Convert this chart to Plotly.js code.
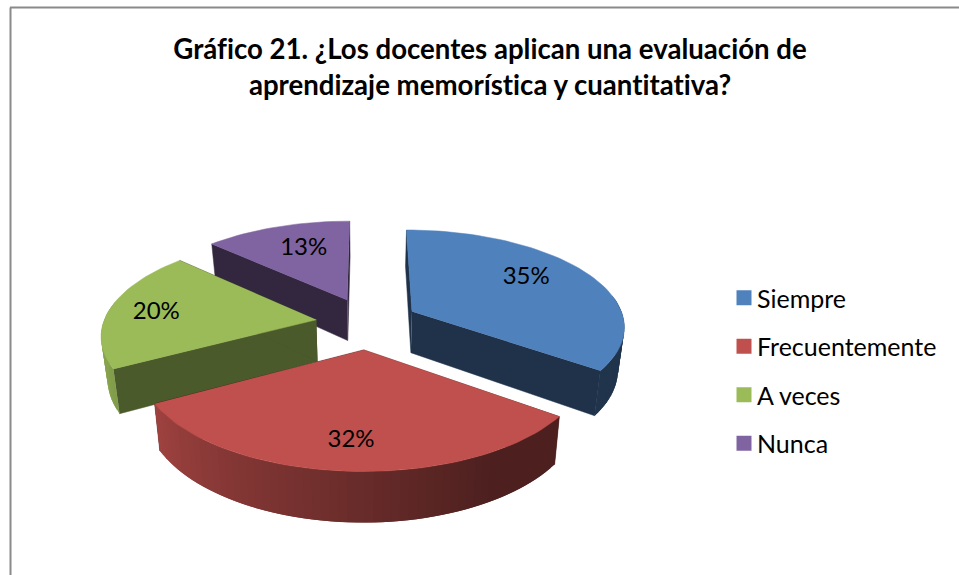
<!DOCTYPE html>
<html><head><meta charset="utf-8">
<script src="https://cdn.plot.ly/plotly-3.0.1.min.js"></script>
<style>html,body{margin:0;padding:0;background:#fff}#chart{width:959px;height:575px}
svg text{font-variant-ligatures:none;font-feature-settings:"liga" 0,"clig" 0}</style>
</head><body><div id="chart"></div>
<script>
const categories = ["Siempre", "Frecuentemente", "A veces", "Nunca"];
const values = [35, 32, 20, 13];
const colors = ["#4f81bd", "#c0504d", "#9bbb59", "#8064a2"];
const chartTitle = "Gráfico 21. ¿Los docentes aplican una evaluación de<br>aprendizaje memorística y cuantitativa?";

// 3D view of the pie, mapped onto pixel-sized axes
const view = {cx: 367, cy: 323, rx: 213, ry: 96, k: 0.141, depth: 42, converge: 0.025, explodeX: 0.241, explodeY: 0.27};
const labelRadius = [0.6, 0.72, 0.75, 0.62];
const labelNudge = [[8, -9], [-1, 8], [-5, 2], [2, -4]];
const faceShade = [0.39, 0.4, 0.48, 0.39];
const font = "Lato, 'Open Sans', sans-serif";

function project(X, Y, z) {
  const w = 1 + view.k * Y;
  return [view.cx + view.rx * X / (w * (1 + view.converge * z)),
          view.cy - view.ry * Y / w + view.depth * z / w];
}
function shade(hex, f) {
  const n = parseInt(hex.slice(1), 16);
  return "rgb(" + [n >> 16, (n >> 8) & 255, n & 255].map(c => Math.round(c * f)).join(",") + ")";
}
function wallFactor(deg) {
  const t = Math.max(0, Math.min(1, (deg - 150) / 100));
  return 0.40 + 0.47 * t;
}
function poly(pts, color, lw) {
  return {type: "scatter", mode: "lines", x: pts.map(p => p[0]), y: pts.map(p => p[1]),
    fill: "toself", fillcolor: color, line: {color: color, width: lw},
    hoverinfo: "skip", showlegend: false};
}

const total = values.reduce((a, b) => a + b, 0);
const slices = [];
let running = 0;
values.forEach((v, i) => {
  const a0 = running / total * 360, a1 = (running + v) / total * 360;
  running += v;
  const mid = (a0 + a1) / 2 * Math.PI / 180;
  slices.push({i, a0, a1, mid, ox: view.explodeX * Math.sin(mid), oy: view.explodeY * Math.cos(mid)});
});

const traces = [];
const drawOrder = [3, 0, 2, 1];
drawOrder.forEach(i => {
  const s = slices[i];
  const rim = (deg, z) => {
    const a = deg * Math.PI / 180;
    return project(s.ox + Math.sin(a), s.oy + Math.cos(a), z);
  };
  const steps = Math.ceil((s.a1 - s.a0) / 2);
  const angle = j => s.a0 + (s.a1 - s.a0) * j / steps;
  // cut faces
  const apex0 = project(s.ox, s.oy, 0), apex1 = project(s.ox, s.oy, 1);
  [s.a0, s.a1].forEach(d => {
    traces.push(poly([apex0, rim(d, 0), rim(d, 1), apex1], shade(colors[i], faceShade[i]), 0.5));
  });
  // outer wall: only the part turned towards the viewer
  for (let j = 0; j < steps; j++) {
    const d0 = angle(j), d1 = angle(Math.min(j + 2, steps)), dm = angle(j + 0.5);
    if (dm < 80 || dm > 280) continue;
    traces.push(poly([rim(d0, 0), rim(d1, 0), rim(d1, 1), rim(d0, 1)], shade(colors[i], wallFactor(dm)), 0));
  }
  // top
  const top = [apex0];
  for (let j = 0; j <= steps; j++) top.push(rim(angle(j), 0));
  traces.push(poly(top, colors[i], 0.5));
});

// data labels
const labelPts = slices.map(s => {
  const r = labelRadius[s.i];
  const p = project(s.ox + r * Math.sin(s.mid), s.oy + r * Math.cos(s.mid), 0);
  return [p[0] + labelNudge[s.i][0], p[1] + labelNudge[s.i][1]];
});
traces.push({type: "scatter", mode: "text", x: labelPts.map(p => p[0]), y: labelPts.map(p => p[1]),
  text: values.map(v => v + "%"), textposition: "middle center",
  textfont: {family: font, size: 24, color: "#000"}, hoverinfo: "skip", showlegend: false});

// legend entries
categories.forEach((c, i) => traces.push({type: "scatter", mode: "markers", x: [null], y: [null], name: c,
  legendgroup: c, marker: {symbol: "square", size: 15, color: colors[i]}, hoverinfo: "skip"}));

const layout = {
  width: 959, height: 575, margin: {l: 0, r: 0, t: 0, b: 0},
  paper_bgcolor: "#fff", plot_bgcolor: "#fff",
  title: {text: chartTitle, x: 490 / 959, xanchor: "center", y: 0.898, yanchor: "middle",
    font: {family: font, size: 27.6, color: "#000", weight: 700}},
  xaxis: {range: [0, 959], visible: false, fixedrange: true},
  yaxis: {range: [575, 0], visible: false, fixedrange: true},
  showlegend: true,
  legend: {x: 724 / 959, y: 1 - 275 / 575, xanchor: "left", yanchor: "top", tracegroupgap: 13,
    traceorder: "grouped", bgcolor: "rgba(0,0,0,0)", font: {family: font, size: 25, color: "#000"}},
  shapes: [
    {type: "line", xref: "paper", yref: "paper", x0: 10 / 959, x1: 1, y0: 1 - 7.5 / 575, y1: 1 - 7.5 / 575, line: {color: "#8a8a8a", width: 2}},
    {type: "line", xref: "paper", yref: "paper", x0: 10.5 / 959, x1: 10.5 / 959, y0: 0, y1: 1 - 7.5 / 575, line: {color: "#8a8a8a", width: 2}}
  ]
};
Plotly.newPlot("chart", traces, layout, {displayModeBar: false}).then(() => {
  // tighten the gap between legend swatch and its text
  document.querySelectorAll(".legendtext").forEach(t => t.setAttribute("x", 33));
});
</script></body></html>
